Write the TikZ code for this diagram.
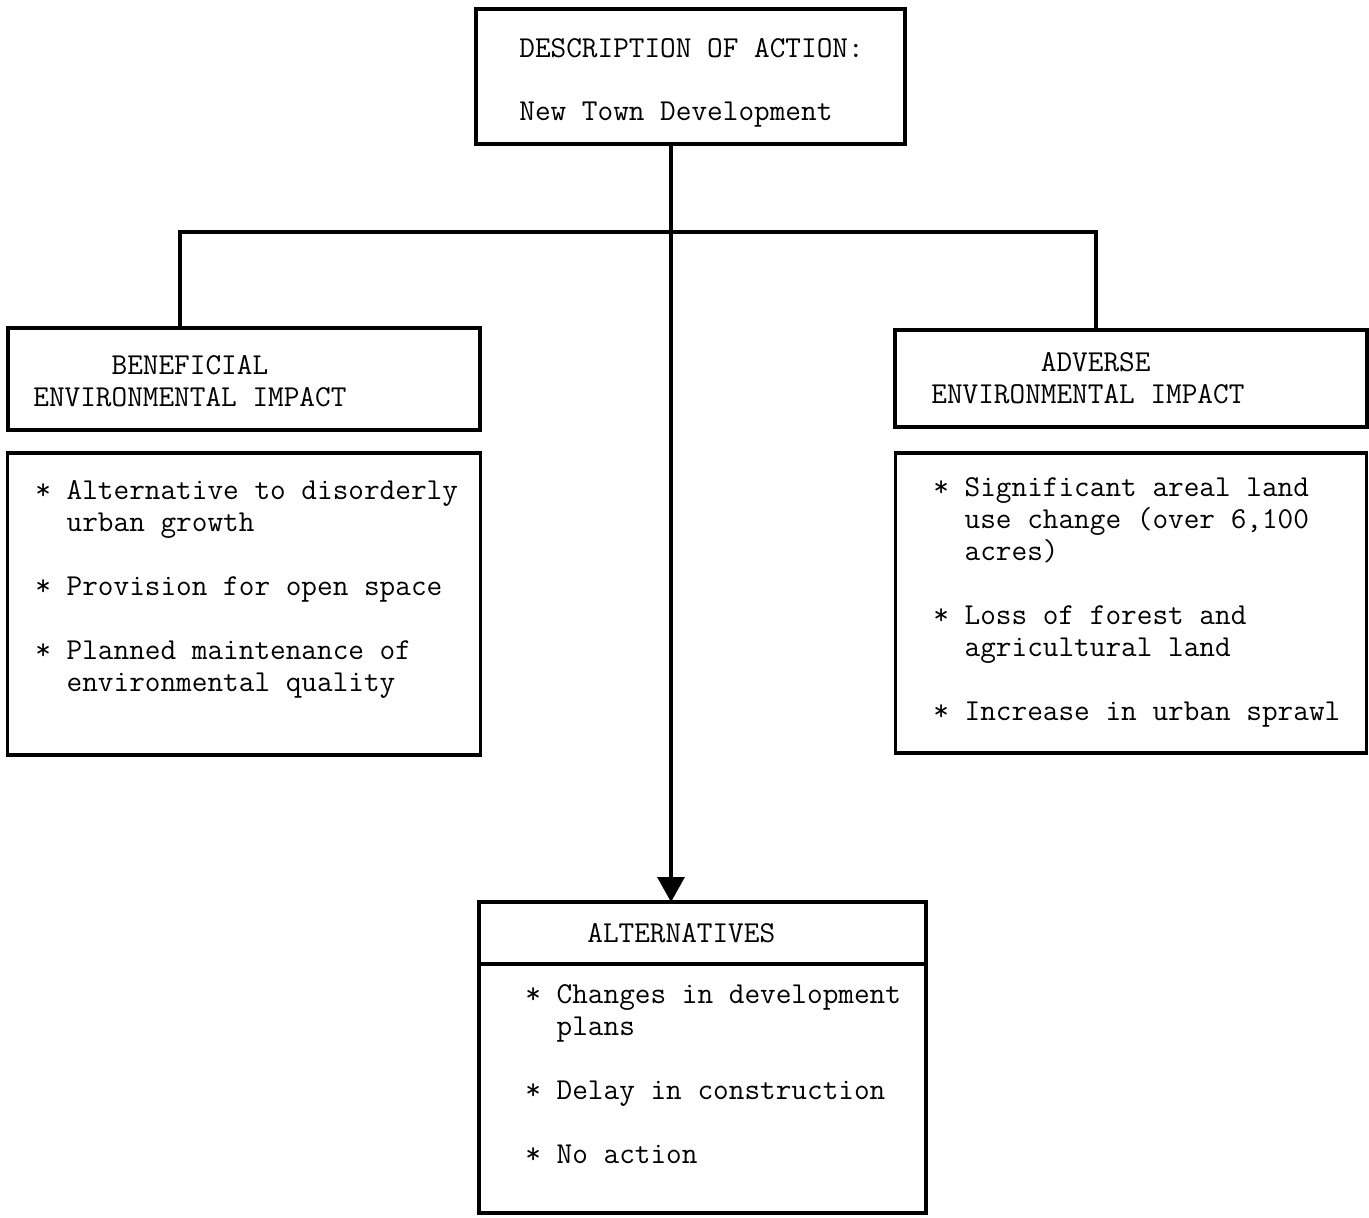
\documentclass[tikz,border=0pt]{standalone}
\usepackage{fontspec}
\usetikzlibrary{arrows.meta,positioning}

\tikzset{
  wire/.style={line width=1.8pt},
  frame/.style={draw,wire,rectangle,inner sep=0pt,outer sep=0pt},
  typed/.style={anchor=base west,align=left,inner sep=0pt,
                font=\ttfamily\fontsize{17.3}{18.2}\selectfont},
}

\begin{document}
\begin{tikzpicture}[x=0.02cm,y=-0.02cm,>={Triangle[length=5mm,width=5.4mm]}]

            \useasboundingbox[fill=white] (0,0) rectangle (1369,1217);

            % define the boxes

            \node[frame,minimum width=8.58cm,minimum height=2.70cm] (action)  at (690.5,76.5)  {};

            \node[frame,minimum width=9.44cm,minimum height=2.04cm] (benHead) at (244,379)     {};

            \node[frame,minimum width=9.46cm,minimum height=6.04cm] (benList) [below=0.46cm of benHead] {};

            \node[frame,minimum width=9.44cm,minimum height=1.94cm] (advHead) at (1131,378.5)  {};

            \node[frame,minimum width=9.42cm,minimum height=6.00cm] (advList) [below=0.52cm of advHead] {};

            \node[frame,minimum width=8.94cm,minimum height=6.22cm] (alt)     at (702.5,1057.5) {};

            \coordinate (altRule) at (0,964);

            \draw[wire] (alt.west |- altRule) -- (alt.east |- altRule);

            % texts (placed at the baseline of their last line)

            \node[typed] (actionText) at (519,120)  {DESCRIPTION OF ACTION:\\[0.62cm]New Town Development};

            \node[typed] (benTitle)   at (33,406)   {\phantom{xxxxx}BENEFICIAL\\ENVIRONMENTAL IMPACT};

            \node[typed] (benItems)   at (35,691)   {* Alternative to disorderly\\
                                                     \phantom{* }urban growth\\[18.2pt]
                                                     * Provision for open space\\[18.2pt]
                                                     * Planned maintenance of\\
                                                     \phantom{* }environmental quality};

            \node[typed] (advTitle)   at (931,403)  {\phantom{xxxxxxx}ADVERSE\\ENVIRONMENTAL IMPACT};

            \node[typed] (advItems)   at (933,720)  {* Significant areal land\\
                                                     \phantom{* }use change (over 6,100\\
                                                     \phantom{* }acres)\\[18.2pt]
                                                     * Loss of forest and\\
                                                     \phantom{* }agricultural land\\[18.2pt]
                                                     * Increase in urban sprawl};

            \node[typed] (altTitle)   at (587,942)  {ALTERNATIVES};

            \node[typed] (altItems)   at (525,1163) {* Changes in development\\
                                                     \phantom{* }plans\\[18.2pt]
                                                     * Delay in construction\\[18.2pt]
                                                     * No action};

            % connectors

            \coordinate (trunk)  at (671,232);

            \coordinate (leftArm)  at (180,232);

            \coordinate (rightArm) at (1096,232);

            \draw[wire,->] (trunk |- action.south) -- (trunk |- alt.north);

            \draw[wire] (leftArm |- benHead.north) -- (leftArm) -- (rightArm) -- (rightArm |- advHead.north);

        \end{tikzpicture}
\end{document}
